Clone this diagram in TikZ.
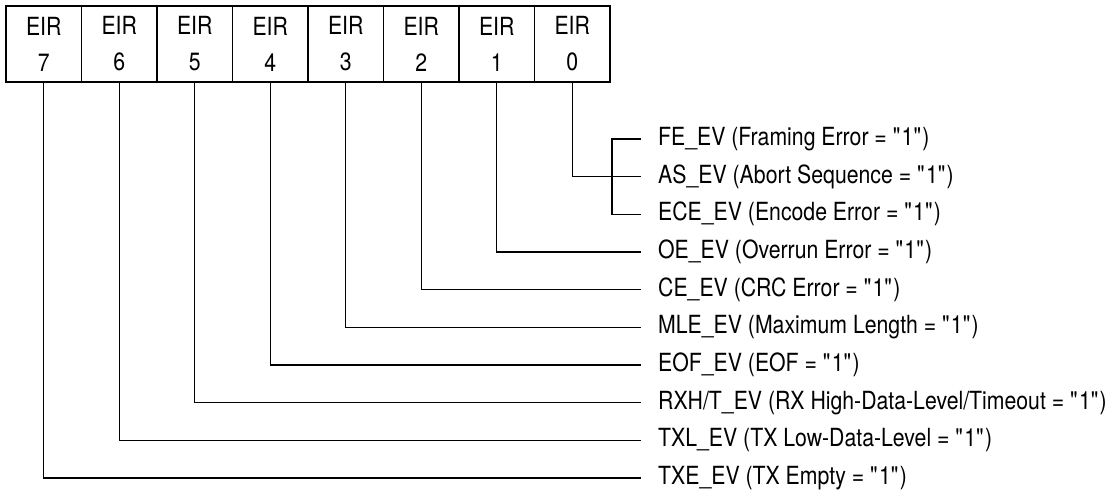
\documentclass[tikz,border=0pt]{standalone}
\usepackage{fontspec}
\setmainfont{TeX Gyre Heros}[FakeStretch=0.85]
\usetikzlibrary{positioning}
\newcommand{\qone}{\textquotedbl 1\textquotedbl}
\tikzset{
  eirbox/.style={draw,line width=1.2pt,minimum width=75.5pt,minimum height=76pt,
                 inner sep=0pt,align=center,font=\fontsize{25}{36}\selectfont},
  evlabel/.style={anchor=west,inner xsep=17pt,inner ysep=0pt,
                  font=\fontsize{25}{28}\selectfont},
  tap/.style={line width=1.2pt},
}

\begin{document}
\begin{tikzpicture}[x=1pt,y=-1pt]
  \useasboundingbox (0,0) rectangle (1112,497);
  % register bits
  \foreach \b in {0,...,7}
    \node[eirbox] (eir\b) at ({572.25-75.5*\b},44) {EIR\\\b};
  % event flags
  \node[evlabel] (fe)  at (641,139.0) {FE\_EV (Framing Error = \qone)};
  \node[evlabel] (as)  at (641,176.7) {AS\_EV (Abort Sequence = \qone)};
  \node[evlabel] (ece) at (641,214.3) {ECE\_EV (Encode Error = \qone)};
  \node[evlabel] (oe)  at (641,252.0) {OE\_EV (Overrun Error = \qone)};
  \node[evlabel] (ce)  at (641,289.7) {CE\_EV (CRC Error = \qone)};
  \node[evlabel] (mle) at (641,327.3) {MLE\_EV (Maximum Length = \qone)};
  \node[evlabel] (eof) at (641,365.0) {EOF\_EV (EOF = \qone)};
  \node[evlabel] (rxh) at (641,402.7) {RXH/T\_EV (RX High-Data-Level/Timeout = \qone)};
  \node[evlabel] (txl) at (641,440.3) {TXL\_EV (TX Low-Data-Level = \qone)};
  \node[evlabel] (txe) at (641,478.0) {TXE\_EV (TX Empty = \qone)};
  % EIR 0 shares three flags
  \coordinate (brk) at (612,0);
  \draw[tap] (fe.west) -- (fe.west -| brk) -- (ece.west -| brk) -- (ece.west);
  \draw[tap] (eir0.south) |- (as.west);
  \draw[tap] (eir1.south) |- (oe.west);
  \draw[tap] (eir2.south) |- (ce.west);
  \draw[tap] (eir3.south) |- (mle.west);
  \draw[tap] (eir4.south) |- (eof.west);
  \draw[tap] (eir5.south) |- (rxh.west);
  \draw[tap] (eir6.south) |- (txl.west);
  \draw[tap] (eir7.south) |- (txe.west);
\end{tikzpicture}
\end{document}
